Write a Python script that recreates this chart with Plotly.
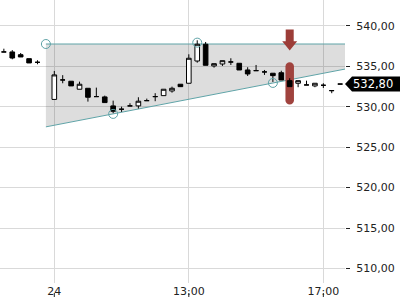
import plotly.graph_objects as go

# ---- data (15-minute candles) ----
times = [
    "2024-04-23 16:30", "2024-04-23 16:45", "2024-04-23 17:00", "2024-04-23 17:15", "2024-04-23 17:30",
    "2024-04-24 09:00", "2024-04-24 09:15", "2024-04-24 09:30", "2024-04-24 09:45",
    "2024-04-24 10:00", "2024-04-24 10:15", "2024-04-24 10:30", "2024-04-24 10:45",
    "2024-04-24 11:00", "2024-04-24 11:15", "2024-04-24 11:30", "2024-04-24 11:45",
    "2024-04-24 12:00", "2024-04-24 12:15", "2024-04-24 12:30", "2024-04-24 12:45",
    "2024-04-24 13:00", "2024-04-24 13:15", "2024-04-24 13:30", "2024-04-24 13:45",
    "2024-04-24 14:00", "2024-04-24 14:15", "2024-04-24 14:30", "2024-04-24 14:45",
    "2024-04-24 15:00", "2024-04-24 15:15", "2024-04-24 15:30", "2024-04-24 15:45",
    "2024-04-24 16:00", "2024-04-24 16:15", "2024-04-24 16:30", "2024-04-24 16:45",
    "2024-04-24 17:00", "2024-04-24 17:15", "2024-04-24 17:30",
]
opens = [536.77, 536.77, 536.43, 535.94, 535.49,
         530.90, 533.31, 533.15, 532.16, 532.28, 531.25, 531.21, 530.10,
         529.69, 530.10, 530.10, 530.75, 531.25, 531.37, 531.95, 532.78,
         532.90, 535.65, 537.72, 535.04, 535.28, 535.53, 535.37, 534.54,
         534.46, 534.30, 534.14, 534.20, 533.22, 532.90, 532.69, 532.57,
         532.65, 531.99, 532.80]
highs = [537.17, 537.00, 536.64, 535.94, 535.74,
         534.42, 533.90, 533.15, 533.10, 532.28, 532.36, 531.37, 530.75,
         530.01, 530.43, 531.17, 531.00, 531.67, 532.16, 532.48, 532.78,
         536.48, 538.21, 538.00, 535.32, 535.69, 535.99, 535.37, 534.88,
         535.16, 534.54, 534.14, 534.45, 533.52, 533.22, 533.22, 532.90,
         532.90, 531.99, 532.80]
lows = [536.77, 535.86, 536.15, 535.41, 535.25,
        530.90, 532.90, 532.57, 532.16, 530.63, 531.25, 530.51, 529.20,
        529.36, 530.10, 529.77, 530.75, 530.68, 531.37, 531.74, 532.48,
        532.90, 535.44, 535.12, 534.83, 535.04, 535.16, 534.54, 533.80,
        534.46, 533.93, 533.06, 533.30, 532.48, 532.41, 532.69, 532.41,
        532.32, 531.67, 532.80]
closes = [536.77, 536.02, 536.15, 535.41, 535.49,
          533.93, 533.31, 532.57, 532.78, 531.17, 531.25, 530.51, 529.44,
          529.69, 530.10, 530.68, 530.75, 531.25, 532.16, 532.28, 532.48,
          535.99, 537.72, 535.12, 535.32, 535.69, 535.53, 534.54, 534.05,
          534.46, 534.30, 533.84, 533.30, 532.48, 533.22, 532.69, 532.90,
          532.65, 531.99, 532.80]

last_price = 532.80
last_label = "532,80"

# triangle pattern (resistance line + rising support line)
pattern_x = ["2024-04-23 17:45", "2024-04-24 17:38:40"]
resistance = [537.75, 537.75]
support = [527.51, 534.65]
touch_x = ["2024-04-23 17:45", "2024-04-24 10:45", "2024-04-24 13:15", "2024-04-24 15:30"]
touch_y = [537.75, 529.11, 537.92, 532.94]

# signal marker at 16:00
signal_x = "2024-04-24 16:00"

x_ticks = ["2024-04-24 09:00", "2024-04-24 13:00", "2024-04-24 17:00"]
x_ticktext = ["24", "13:00", "17:00"]
y_ticks = [510, 515, 520, 525, 530, 535, 540]

TEAL = "#5fa3a7"
RED = "#9c3d38"
PILL = "#a0433e"
FONT = "DejaVu Sans"


def pdate(s):
    return s.replace(" ", "_")


fig = go.Figure()

fig.add_trace(go.Candlestick(
    x=times, open=opens, high=highs, low=lows, close=closes,
    increasing=dict(line=dict(color="black", width=1), fillcolor="white"),
    decreasing=dict(line=dict(color="black", width=1), fillcolor="black"),
    whiskerwidth=0, showlegend=False))

fig.add_trace(go.Scatter(x=touch_x, y=touch_y, mode="markers",
                         marker=dict(symbol="circle-open", size=9, color=TEAL, line=dict(width=1)),
                         showlegend=False, hoverinfo="skip"))

shapes = []
# shaded triangle between the two pattern lines
tri_path = "M {a},{r0} L {b},{r1} L {b},{s1} L {a},{s0} Z".format(
    a=pdate(pattern_x[0]), b=pdate(pattern_x[1]),
    r0=resistance[0], r1=resistance[1], s0=support[0], s1=support[1])
shapes.append(dict(type="path", xref="x", yref="y", path=tri_path,
                   fillcolor="rgba(0,0,0,0.135)", line=dict(width=0), layer="between"))
shapes.append(dict(type="line", xref="x", yref="y", x0=pattern_x[0], x1=pattern_x[1],
                   y0=resistance[0], y1=resistance[1], line=dict(color=TEAL, width=1), layer="between"))
shapes.append(dict(type="line", xref="x", yref="y", x0=pattern_x[0], x1=pattern_x[1],
                   y0=support[0], y1=support[1], line=dict(color=TEAL, width=1), layer="between"))
# signal range bar (rounded pill), below the candles
shapes.append(dict(type="path", xref="x", yref="y", xsizemode="pixel", ysizemode="pixel",
                   xanchor=signal_x, yanchor=last_price,
                   path=("M -4.25,17.55 C -4.25,19.9 -2.35,21.8 0,21.8 C 2.35,21.8 4.25,19.9 4.25,17.55 "
                         "L 4.25,-16.25 C 4.25,-18.6 2.35,-20.5 0,-20.5 C -2.35,-20.5 -4.25,-18.6 -4.25,-16.25 Z"),
                   fillcolor=PILL, line=dict(width=0), layer="between"))
# down arrow above signal bar
shapes.append(dict(type="path", xref="x", yref="y", xsizemode="pixel", ysizemode="pixel",
                   xanchor=signal_x, yanchor=last_price,
                   path="M -4,54.5 L 4,54.5 L 4,42.8 L 7.5,42.8 L 0,33.5 L -7.5,42.8 L -4,42.8 Z",
                   fillcolor=RED, line=dict(width=0), layer="above"))
# last price label box
shapes.append(dict(type="path", xref="paper", yref="y", xsizemode="pixel", ysizemode="pixel",
                   xanchor=1, yanchor=last_price,
                   path="M 0,0 L 7,7.5 L 60,7.5 L 60,-7.5 L 7,-7.5 Z",
                   fillcolor="black", line=dict(width=0), layer="above"))
# small x tick marks under the labels
for t in x_ticks:
    shapes.append(dict(type="line", xref="x", yref="paper", ysizemode="pixel", yanchor=0,
                       x0=t, x1=t, y0=-10, y1=-14, line=dict(color="#222", width=1)))

fig.update_layout(
    width=400, height=300,
    margin=dict(l=0, r=55, t=0, b=17),
    paper_bgcolor="white", plot_bgcolor="white",
    separators=",.",
    font=dict(family=FONT, size=11, color="#222"),
    boxgap=0.45, boxgroupgap=0,
    shapes=shapes,
    annotations=[dict(xref="paper", yref="y", x=1, y=last_price, text=last_label,
                      showarrow=False, xanchor="left", xshift=6,
                      font=dict(family=FONT, size=11.5, color="white"))],
    xaxis=dict(
        type="date",
        range=["2024-04-23 16:23:06", "2024-04-24 17:38:40"],
        rangebreaks=[dict(values=["2024-04-23 18:00"], dvalue=15 * 3600 * 1000)],
        rangeslider=dict(visible=False),
        tickmode="array", tickvals=x_ticks, ticktext=x_ticktext,
        showgrid=True, gridcolor="#d9d9d9", gridwidth=1,
        zeroline=False, showline=False, ticks="",
        tickfont=dict(family=FONT, size=11, color="#222"),
    ),
    yaxis=dict(
        side="right",
        range=[508.21, 543.19],
        tickmode="array", tickvals=y_ticks, tickformat=".2f",
        showgrid=True, gridcolor="#d9d9d9", gridwidth=1,
        zeroline=False, showline=False,
        ticks="outside", ticklen=4, tickcolor="#222", tickwidth=1,
        ticklabelstandoff=4,
        tickfont=dict(family=FONT, size=11, color="#222"),
    ),
)

fig.write_html("out.html")
